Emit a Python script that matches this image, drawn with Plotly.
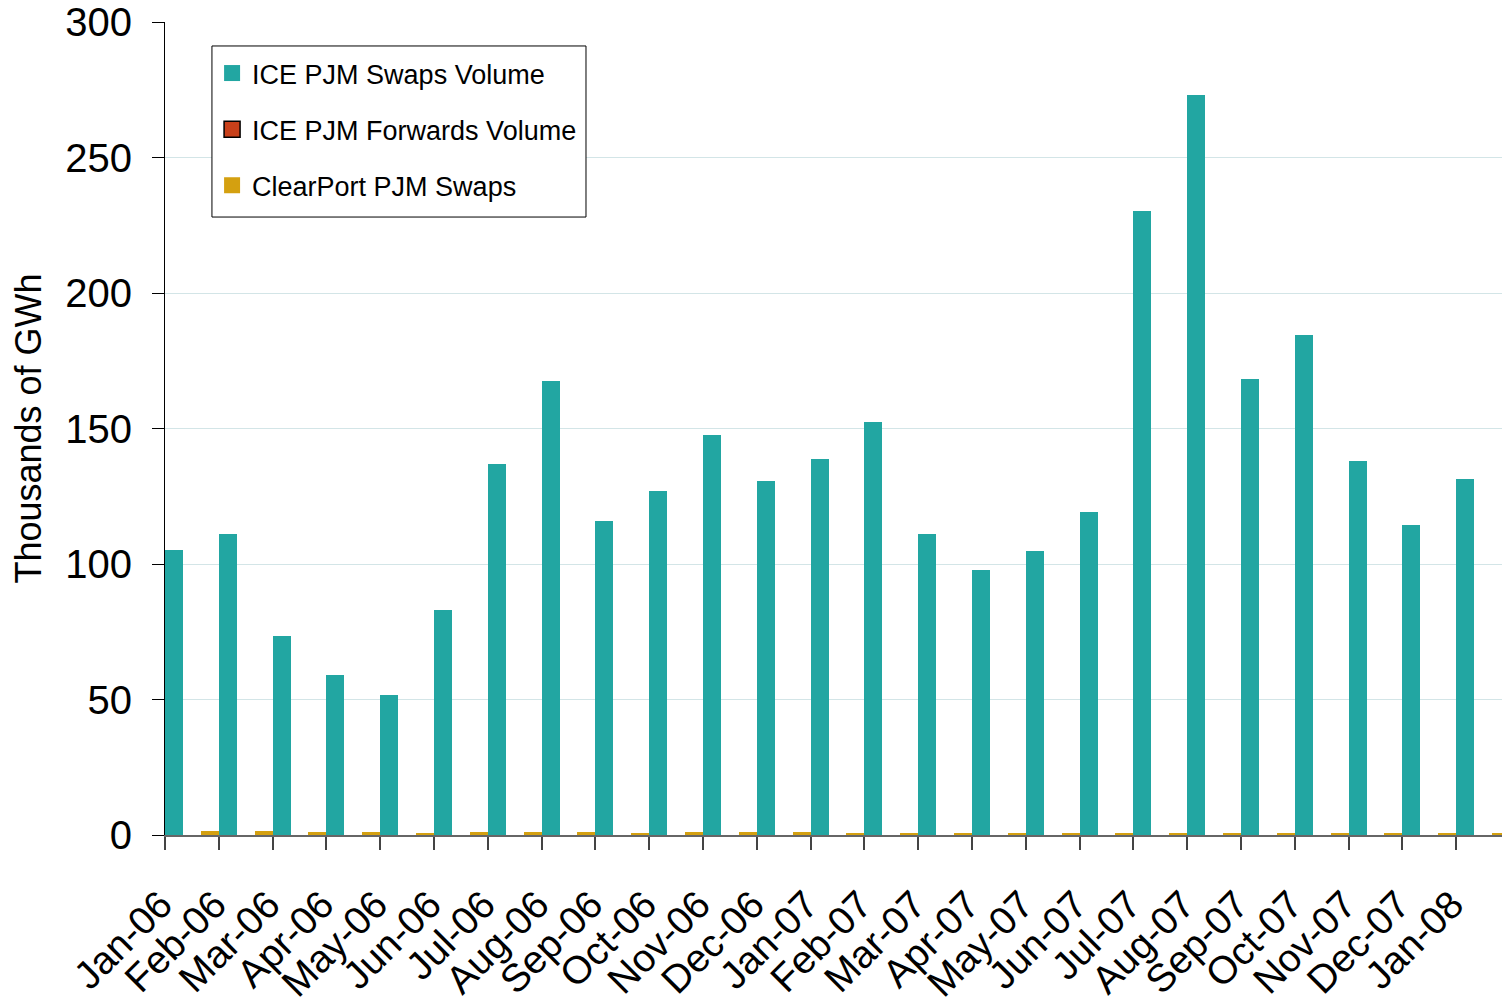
import plotly.graph_objects as go

months = ["Jan-06", "Feb-06", "Mar-06", "Apr-06", "May-06", "Jun-06", "Jul-06", "Aug-06",
          "Sep-06", "Oct-06", "Nov-06", "Dec-06", "Jan-07", "Feb-07", "Mar-07", "Apr-07",
          "May-07", "Jun-07", "Jul-07", "Aug-07", "Sep-07", "Oct-07", "Nov-07", "Dec-07", "Jan-08"]
ice_swaps = [105, 111, 73.4, 59, 51.7, 83, 137, 167.5, 116, 127, 147.6, 130.6, 138.7, 152.4,
             111, 97.8, 104.8, 119.2, 230.3, 273, 168.3, 184.5, 138, 114.4, 131.4]
ice_forwards = [0] * 25
clearport = [1.6, 1.6, 1.2, 1.2, 0.4, 1.2, 1.2, 1.2, 0.4, 1.2, 1.2, 1.2, 0.4, 0.4, 0.4, 0.4,
             0.4, 0.4, 0.4, 0.4, 0.4, 0.4, 0.4, 0.4, 0.4]

series_names = ["ICE PJM Swaps Volume", "ICE PJM Forwards Volume", "ClearPort PJM Swaps"]
series_colors = ["#22a6a2", "#c8401a", "#d4a010"]
series_values = [ice_swaps, ice_forwards, clearport]

FONT = "Liberation Sans, Arial, sans-serif"

fig = go.Figure()
for i, (name, color, vals) in enumerate(zip(series_names, series_colors, series_values)):
    fig.add_trace(go.Bar(x=months, y=vals, name=name, showlegend=False,
                         marker=dict(color=color, line=dict(width=0))))
# legend entries (square swatches like the original)
for i, (name, color) in enumerate(zip(series_names, series_colors)):
    fig.add_trace(go.Scatter(x=[None], y=[None], mode="markers", name=name,
                             legendgroup=f"g{i}",
                             marker=dict(symbol="square", size=16, color=color,
                                         line=dict(width=1.5 if i == 1 else 0, color="black"))))

# legend frame
fig.add_shape(type="rect", xref="paper", yref="paper",
              x0=0.0349, x1=0.3130, y0=0.7601, y1=0.9705,
              line=dict(color="black", width=1), fillcolor="white", layer="above")

fig.update_layout(
    width=1502, height=990,
    margin=dict(l=157, r=0, t=14, b=163),
    paper_bgcolor="white", plot_bgcolor="white",
    barmode="group", bargap=0, bargroupgap=0,
    font=dict(family=FONT, color="black"),
    legend=dict(x=0.035, y=0.9668, xanchor="left", yanchor="top",
                borderwidth=0, bgcolor="rgba(0,0,0,0)",
                font=dict(size=27, family=FONT), traceorder="grouped",
                tracegroupgap=18),
    showlegend=True,
)
fig.update_xaxes(type="category", range=[-0.5, 24.5], tickson="boundaries",
                 ticks="outside", ticklen=13, tickcolor="#444", tickwidth=1.5,
                 showline=True, linecolor="#666", linewidth=2,
                 tickangle=-45, tickfont=dict(size=39, family=FONT),
                 showgrid=False, ticklabelstandoff=29, ticklabelshift=-31,
                 ticklabeloverflow="allow", automargin=False)
fig.update_yaxes(range=[0, 300], dtick=50, ticks="outside", ticklen=12, tickcolor="black",
                 showline=True, linecolor="black", linewidth=1,
                 showgrid=True, gridcolor="#d3e5e7", gridwidth=1,
                 zeroline=False, automargin=False, ticklabeloverflow="allow",
                 tickfont=dict(size=40, family=FONT), ticklabelstandoff=12,
                 title=dict(text="Thousands of GWh", font=dict(size=36, family=FONT), standoff=16))

fig.write_html("out.html")
